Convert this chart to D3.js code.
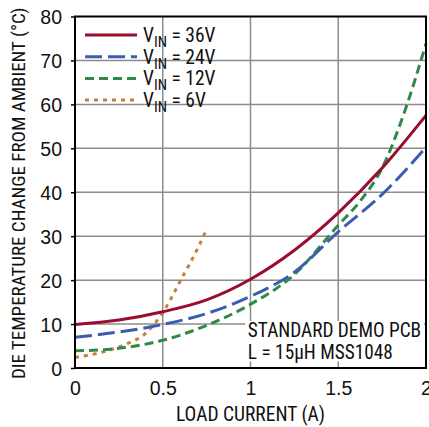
<!DOCTYPE html>
<html>
<head>
<meta charset="utf-8">
<script src="https://cdn.jsdelivr.net/npm/d3@7"></script>
<style>
  body { margin: 0; background: #fff; }
  svg { display: block; }
</style>
</head>
<body>
<script>
// load current (A) and die temperature rise (°C)
let xVin36 = [0, 0.25, 0.5, 0.75, 1, 1.25, 1.5, 1.75, 2];
let yVin36 = [9.9, 10.9, 12.8, 15.5, 20.2, 26.8, 35.3, 45.5, 57.5];
let xVin24 = [0, 0.25, 0.5, 0.75, 1, 1.25, 1.5, 1.75, 2];
let yVin24 = [7.0, 8.2, 9.9, 12.4, 16.3, 21.8, 31, 39.5, 50.2];
let xVin12 = [0, 0.25, 0.5, 0.75, 1, 1.25, 1.5, 1.625, 1.75, 1.875, 2];
let yVin12 = [3.9, 4.5, 6.3, 9.7, 14.5, 21.3, 32.5, 38, 45.5, 58, 73.8];
let xVin6 = [0, 0.1, 0.2, 0.3, 0.4, 0.5, 0.6, 0.7, 0.75];
let yVin6 = [2.4, 3.1, 4.1, 5.6, 7.8, 12.6, 19.8, 27.3, 31.6];

let seriesNames = ['36V', '24V', '12V', '6V'];
let xTicks = [0, 0.5, 1, 1.5, 2];
let xTickLabels = ['0', '0.5', '1', '1.5', '2'];
let yTicks = [0, 10, 20, 30, 40, 50, 60, 70, 80];

let series = [
  {name: seriesNames[0], x: xVin36, y: yVin36, color: '#9c0b30', dash: null},
  {name: seriesNames[1], x: xVin24, y: yVin24, color: '#3c5cb2', dash: '17,6'},
  {name: seriesNames[2], x: xVin12, y: yVin12, color: '#2f8a48', dash: '9,5'},
  {name: seriesNames[3], x: xVin6, y: yVin6, color: '#c47f3c', dash: '4,5'},
];

let width = 429;
let height = 427;
let margins = {top: 16.5, bottom: 59, left: 75, right: 3};
let font = '"Roboto Condensed", "Liberation Sans Narrow", sans-serif';

let xScale = d3.scaleLinear([0, 2], [margins.left, width - margins.right]);
let yScale = d3.scaleLinear([0, 80], [height - margins.bottom, margins.top]);

let svg = d3.create('svg')
  .attr('width', width)
  .attr('height', height)
  .attr('font-family', font);

// grid
svg.append('g')
  .selectAll('line')
  .data(xTicks.slice(1, -1))
  .join('line')
  .attr('x1', d => xScale(d))
  .attr('x2', d => xScale(d))
  .attr('y1', yScale(0))
  .attr('y2', yScale(80))
  .attr('stroke', '#8c8c8c')
  .attr('stroke-width', 1.5);

svg.append('g')
  .selectAll('line')
  .data(yTicks.slice(1, -1))
  .join('line')
  .attr('x1', xScale(0))
  .attr('x2', xScale(2))
  .attr('y1', d => yScale(d))
  .attr('y2', d => yScale(d))
  .attr('stroke', '#8c8c8c')
  .attr('stroke-width', 1.5);

// note box hides the grid behind it
svg.append('rect')
  .attr('x', xScale(0.97))
  .attr('y', yScale(10.7))
  .attr('width', xScale(2) - xScale(0.97) - 2)
  .attr('height', yScale(1.5) - yScale(10.7))
  .attr('fill', '#fff');

let line = d3.line()
  .x(d => xScale(d[0]))
  .y(d => yScale(d[1]))
  .curve(d3.curveMonotoneX);

svg.append('g')
  .selectAll('path')
  .data(series.slice().reverse())
  .join('path')
  .attr('d', s => line(d3.zip(s.x, s.y)))
  .attr('fill', 'none')
  .attr('stroke', s => s.color)
  .attr('stroke-width', 3)
  .attr('stroke-dasharray', s => s.dash);

// axes
let xAxis = d3.axisBottom(xScale)
  .tickValues(xTicks)
  .tickFormat((d, i) => xTickLabels[i])
  .tickSize(0)
  .tickPadding(13);

let yAxis = d3.axisLeft(yScale)
  .tickValues(yTicks)
  .tickSize(4)
  .tickPadding(9);

svg.append('g')
  .attr('transform', `translate(0,${yScale(0)})`)
  .call(xAxis)
  .call(g => g.select('.domain').remove())
  .selectAll('text')
  .attr('font-size', 19.5)
  .attr('fill', '#111');

svg.append('g')
  .attr('transform', `translate(${xScale(0)},0)`)
  .call(yAxis)
  .call(g => g.select('.domain').remove())
  .call(g => g.selectAll('.tick line').attr('stroke-width', 1.5))
  .selectAll('text')
  .attr('font-size', 19.5)
  .attr('dy', '0.36em')
  .attr('fill', '#111');

svg.append('rect')
  .attr('x', xScale(0))
  .attr('y', yScale(80))
  .attr('width', xScale(2) - xScale(0))
  .attr('height', yScale(0) - yScale(80))
  .attr('fill', 'none')
  .attr('stroke', '#000')
  .attr('stroke-width', 2);

// legend
let legend = svg.append('g')
  .selectAll('g')
  .data(series)
  .join('g')
  .attr('transform', (d, i) => `translate(85,${35 + i * 21.7})`);

legend.append('line')
  .attr('x1', 0)
  .attr('x2', 52)
  .attr('stroke', d => d.color)
  .attr('stroke-width', 3)
  .attr('stroke-dasharray', d => d.dash);

let legendText = legend.append('text')
  .attr('x', 58)
  .attr('y', 7)
  .attr('font-size', 19.5)
  .attr('fill', '#111');
legendText.append('tspan').text('V');
legendText.append('tspan').text('IN').attr('font-size', 15).attr('dy', 5);
legendText.append('tspan').text(d => ` = ${d.name}`).attr('dy', -5);

// note
svg.append('text')
  .attr('x', xScale(0.985))
  .attr('y', 337)
  .attr('font-size', 19.3)
  .attr('fill', '#111')
  .text('STANDARD DEMO PCB');

svg.append('text')
  .attr('x', xScale(0.985))
  .attr('y', 359)
  .attr('font-size', 19.3)
  .attr('fill', '#111')
  .text('L = 15µH MSS1048');

// axis titles
svg.append('text')
  .attr('x', (xScale(0) + xScale(2)) / 2)
  .attr('y', 421)
  .attr('text-anchor', 'middle')
  .attr('font-size', 19.5)
  .attr('fill', '#111')
  .text('LOAD CURRENT (A)');

svg.append('text')
  .attr('transform', 'rotate(-90)')
  .attr('x', -(yScale(0) + yScale(80)) / 2 - 1)
  .attr('y', 25)
  .attr('text-anchor', 'middle')
  .attr('font-size', 19)
  .attr('fill', '#111')
  .text('DIE TEMPERATURE CHANGE FROM AMBIENT (°C)');

document.body.prepend(svg.node());
</script>
</body>
</html>
